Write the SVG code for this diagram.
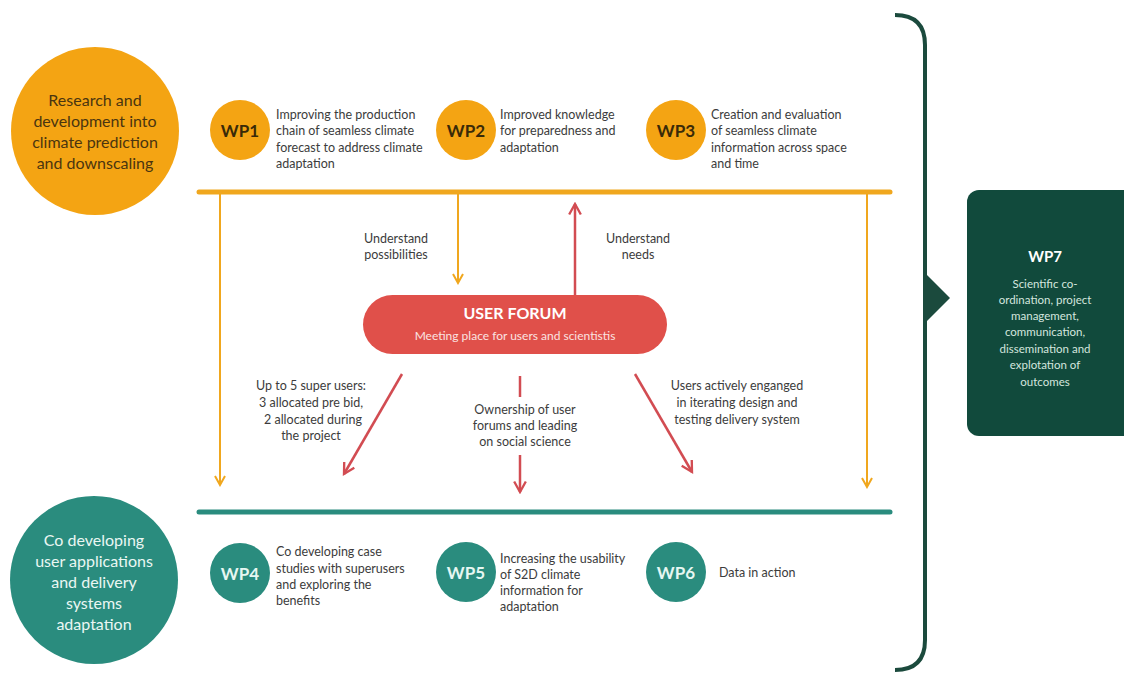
<svg xmlns="http://www.w3.org/2000/svg" width="1124" height="673" viewBox="0 0 1124 673">
<defs>
<style>
text{font-family:Lato,"Open Sans","Liberation Sans",sans-serif}
.big{font-size:16px;text-anchor:middle}
.wp{font-size:17px;font-weight:bold;text-anchor:middle;dominant-baseline:central}
.desc{font-size:12.5px;fill:#3c3c3c}
.lbl{font-size:12.5px;fill:#3c3c3c;text-anchor:middle}
.org{fill:#F4A413}
.teal{fill:#2A8C7E}
.oline{stroke:#F0A71E;stroke-width:2;fill:none}
.rline{stroke:#D24C52;stroke-width:2.5;fill:none}
</style>
<marker id="ao" viewBox="0 0 12 12" refX="10" refY="6" markerWidth="12" markerHeight="12" markerUnits="userSpaceOnUse" orient="auto">
<path d="M1,1 L10,6 L1,11" fill="none" stroke="#F0A71E" stroke-width="2"/>
</marker>
<marker id="ar" viewBox="0 0 12 12" refX="10" refY="6" markerWidth="14" markerHeight="14" markerUnits="userSpaceOnUse" orient="auto">
<path d="M1,1 L10,6 L1,11" fill="none" stroke="#D24C52" stroke-width="2"/>
</marker>
</defs>
<rect width="1124" height="673" fill="#ffffff"/>

<g id="connectors">
<line x1="199" y1="192" x2="890" y2="192" stroke="#F0A71E" stroke-width="5" stroke-linecap="round"/>
<line x1="199" y1="512" x2="890" y2="512" stroke="#2A8C7E" stroke-width="5" stroke-linecap="round"/>
<line class="oline" x1="220" y1="194" x2="220" y2="485" marker-end="url(#ao)"/>
<line class="oline" x1="458" y1="194" x2="458" y2="283" marker-end="url(#ao)"/>
<line class="oline" x1="867" y1="194" x2="867" y2="487" marker-end="url(#ao)"/>
<line class="rline" x1="575" y1="295" x2="575" y2="204" marker-end="url(#ar)"/>
<line class="rline" x1="402" y1="374" x2="344" y2="474" marker-end="url(#ar)"/>
<line class="rline" x1="520" y1="376" x2="520" y2="397"/>
<line class="rline" x1="520" y1="455" x2="520" y2="492" marker-end="url(#ar)"/>
<line class="rline" x1="635" y1="374" x2="692" y2="472" marker-end="url(#ar)"/>
<path d="M895,15 Q925,15 925,45 L925,640 Q925,670 895,670" fill="none" stroke="#1B4A3D" stroke-width="4"/>
<path d="M924,272 L950,298 L924,324 Z" fill="#1B4A3D"/>
<text class="lbl" x="396" y="243">Understand</text>
<text class="lbl" x="396" y="259">possibilities</text>
<text class="lbl" x="638" y="243">Understand</text>
<text class="lbl" x="638" y="259">needs</text>
<text class="lbl" x="311" y="390">Up to 5 super users:</text>
<text class="lbl" x="311" y="407">3 allocated pre bid,</text>
<text class="lbl" x="313" y="424">2 allocated during</text>
<text class="lbl" x="311" y="440">the project</text>
<text class="lbl" x="525" y="414">Ownership of user</text>
<text class="lbl" x="525" y="430">forums and leading</text>
<text class="lbl" x="525" y="446">on social science</text>
<text class="lbl" x="737" y="390">Users actively enganged</text>
<text class="lbl" x="737" y="407">in iterating design and</text>
<text class="lbl" x="737" y="424">testing delivery system</text>
</g>

<g id="research">
<circle class="org" cx="95" cy="131" r="84"/>
<text class="big" fill="#4a3510" x="95" y="106">Research and</text>
<text class="big" fill="#4a3510" x="95" y="127">development into</text>
<text class="big" fill="#4a3510" x="95" y="148">climate prediction</text>
<text class="big" fill="#4a3510" x="95" y="169">and downscaling</text>
</g>

<g id="wp1">
<circle class="org" cx="240" cy="130" r="30"/>
<text class="wp" fill="#3a2a08" x="240" y="130">WP1</text>
<text class="desc" x="276" y="119">Improving the production</text>
<text class="desc" x="276" y="135">chain of seamless climate</text>
<text class="desc" x="276" y="152">forecast to address climate</text>
<text class="desc" x="276" y="168">adaptation</text>
</g>

<g id="wp2">
<circle class="org" cx="466" cy="130" r="30"/>
<text class="wp" fill="#3a2a08" x="466" y="130">WP2</text>
<text class="desc" x="500" y="119">Improved knowledge</text>
<text class="desc" x="500" y="135">for preparedness and</text>
<text class="desc" x="500" y="152">adaptation</text>
</g>

<g id="wp3">
<circle class="org" cx="676" cy="130" r="30"/>
<text class="wp" fill="#3a2a08" x="676" y="130">WP3</text>
<text class="desc" x="711" y="119">Creation and evaluation</text>
<text class="desc" x="711" y="135">of seamless climate</text>
<text class="desc" x="711" y="152">information across space</text>
<text class="desc" x="711" y="168">and time</text>
</g>

<g id="userforum">
<rect x="363" y="295" width="304" height="59" rx="29.5" fill="#E0504A"/>
<text x="515" y="319" font-size="16" font-weight="bold" fill="#ffffff" text-anchor="middle">USER FORUM</text>
<text x="515" y="340" font-size="12" fill="#fbe3e1" text-anchor="middle">Meeting place for users and scientistis</text>
</g>

<g id="codev">
<circle class="teal" cx="94" cy="580" r="84"/>
<text class="big" font-size="17" fill="#eaf7f3" x="94" y="546">Co developing</text>
<text class="big" font-size="17" fill="#eaf7f3" x="94" y="567">user applications</text>
<text class="big" font-size="17" fill="#eaf7f3" x="94" y="588">and delivery</text>
<text class="big" font-size="17" fill="#eaf7f3" x="94" y="609">systems</text>
<text class="big" font-size="17" fill="#eaf7f3" x="94" y="630">adaptation</text>
</g>

<g id="wp4">
<circle class="teal" cx="240" cy="573" r="30"/>
<text class="wp" fill="#e6f7f2" x="240" y="573">WP4</text>
<text class="desc" x="276" y="556">Co developing case</text>
<text class="desc" x="276" y="573">studies with superusers</text>
<text class="desc" x="276" y="589">and exploring the</text>
<text class="desc" x="276" y="605">benefits</text>
</g>

<g id="wp5">
<circle class="teal" cx="466" cy="572" r="30"/>
<text class="wp" fill="#e6f7f2" x="466" y="572">WP5</text>
<text class="desc" x="500" y="563">Increasing the usability</text>
<text class="desc" x="500" y="579">of S2D climate</text>
<text class="desc" x="500" y="595">information for</text>
<text class="desc" x="500" y="611">adaptation</text>
</g>

<g id="wp6">
<circle class="teal" cx="676" cy="572" r="30"/>
<text class="wp" fill="#e6f7f2" x="676" y="572">WP6</text>
<text class="desc" x="719" y="577">Data in action</text>
</g>

<g id="wp7">
<rect x="967" y="190" width="170" height="246" rx="12" fill="#114A3C"/>
<text x="1045" y="262" font-size="15" font-weight="bold" fill="#ffffff" text-anchor="middle">WP7</text>
<text class="lbl" style="fill:#d4e6df;font-size:11.5px" x="1045" y="288">Scientific co-</text>
<text class="lbl" style="fill:#d4e6df;font-size:11.5px" x="1045" y="304">ordination, project</text>
<text class="lbl" style="fill:#d4e6df;font-size:11.5px" x="1045" y="320">management,</text>
<text class="lbl" style="fill:#d4e6df;font-size:11.5px" x="1045" y="336">communication,</text>
<text class="lbl" style="fill:#d4e6df;font-size:11.5px" x="1045" y="353">dissemination and</text>
<text class="lbl" style="fill:#d4e6df;font-size:11.5px" x="1045" y="369">explotation of</text>
<text class="lbl" style="fill:#d4e6df;font-size:11.5px" x="1045" y="386">outcomes</text>
</g>
</svg>
